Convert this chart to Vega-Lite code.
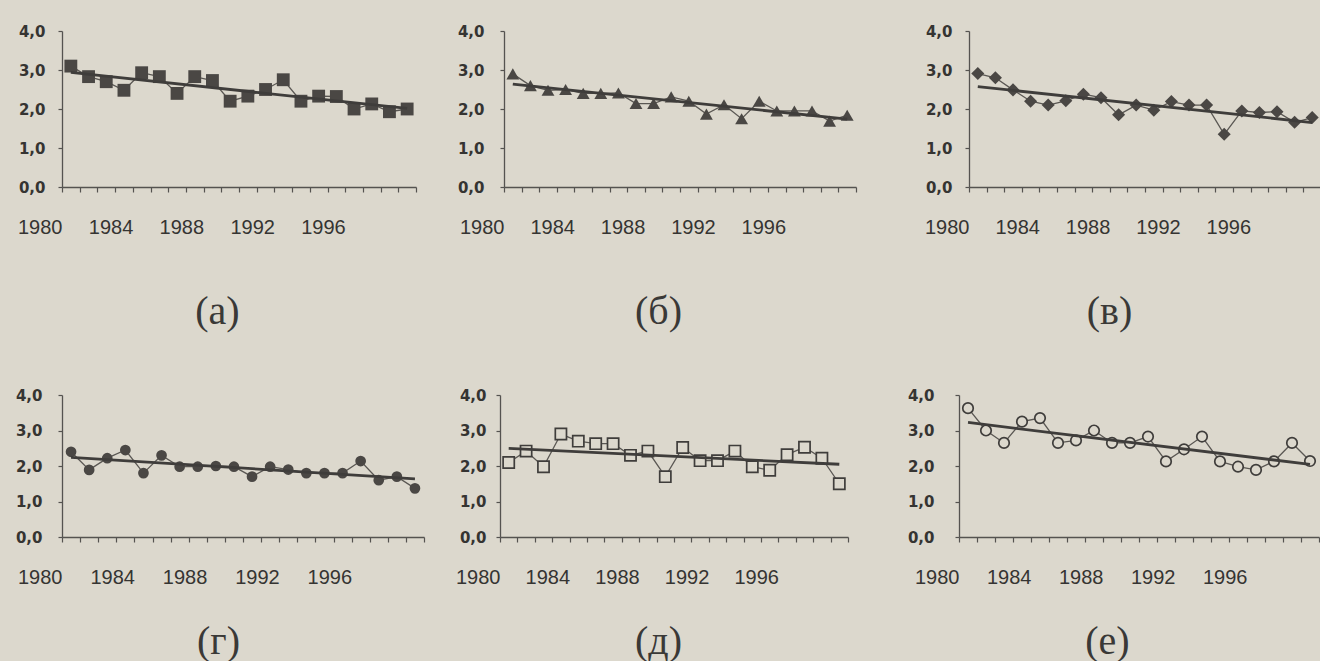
{
  "$schema": "https://vega.github.io/schema/vega-lite/v6.json",
  "background": "#dcd8cd",
  "padding": {"left": 5, "top": 24, "right": 0, "bottom": 0},
  "config": {
    "view": {"stroke": null},
    "axis": {"domainColor": "#555350", "tickColor": "#555350", "labelColor": "#353432", "labelFont": "Liberation Sans", "grid": false, "titleFont": "Liberation Serif", "titleFontWeight": "normal", "titleFontSize": 40, "titleColor": "#3a3937", "domainWidth": 1.3, "tickWidth": 1.2},
    "axisX": {"labelExpr": "datum.value < 1999 && (floor(datum.value) - 1980) % 4 == 0 ? '' + floor(datum.value) : ''", "labelAlign": "right", "labelFontSize": 20, "labelPadding": 25, "labelOverlap": false, "labelFlush": false, "labelBound": false, "tickSize": 5, "titleAlign": "center", "titleBaseline": "middle"},
    "axisY": {"labelExpr": "replace(format(datum.value, '.1f'), '.', ',')", "labelFont": "DejaVu Sans", "labelFontSize": 15, "labelFontWeight": "bold", "tickSize": 4, "title": null}
  },
  "data": {"values": [
    {"p":"a","year":1981,"v":3.1},{"p":"a","year":1982,"v":2.83},{"p":"a","year":1983,"v":2.7},{"p":"a","year":1984,"v":2.48},{"p":"a","year":1985,"v":2.93},{"p":"a","year":1986,"v":2.83},{"p":"a","year":1987,"v":2.4},{"p":"a","year":1988,"v":2.83},{"p":"a","year":1989,"v":2.73},{"p":"a","year":1990,"v":2.2},{"p":"a","year":1991,"v":2.33},{"p":"a","year":1992,"v":2.5},{"p":"a","year":1993,"v":2.75},{"p":"a","year":1994,"v":2.2},{"p":"a","year":1995,"v":2.33},{"p":"a","year":1996,"v":2.32},{"p":"a","year":1997,"v":2.0},{"p":"a","year":1998,"v":2.13},{"p":"a","year":1999,"v":1.93},{"p":"a","year":2000,"v":2.0},
    {"p":"b","year":1981,"v":2.9},{"p":"b","year":1982,"v":2.6},{"p":"b","year":1983,"v":2.48},{"p":"b","year":1984,"v":2.5},{"p":"b","year":1985,"v":2.4},{"p":"b","year":1986,"v":2.4},{"p":"b","year":1987,"v":2.41},{"p":"b","year":1988,"v":2.14},{"p":"b","year":1989,"v":2.14},{"p":"b","year":1990,"v":2.31},{"p":"b","year":1991,"v":2.2},{"p":"b","year":1992,"v":1.87},{"p":"b","year":1993,"v":2.11},{"p":"b","year":1994,"v":1.75},{"p":"b","year":1995,"v":2.2},{"p":"b","year":1996,"v":1.95},{"p":"b","year":1997,"v":1.95},{"p":"b","year":1998,"v":1.95},{"p":"b","year":1999,"v":1.69},{"p":"b","year":2000,"v":1.84},
    {"p":"v","year":1981,"v":2.91},{"p":"v","year":1982,"v":2.8},{"p":"v","year":1983,"v":2.49},{"p":"v","year":1984,"v":2.2},{"p":"v","year":1985,"v":2.1},{"p":"v","year":1986,"v":2.21},{"p":"v","year":1987,"v":2.38},{"p":"v","year":1988,"v":2.29},{"p":"v","year":1989,"v":1.85},{"p":"v","year":1990,"v":2.1},{"p":"v","year":1991,"v":1.97},{"p":"v","year":1992,"v":2.19},{"p":"v","year":1993,"v":2.1},{"p":"v","year":1994,"v":2.1},{"p":"v","year":1995,"v":1.35},{"p":"v","year":1996,"v":1.95},{"p":"v","year":1997,"v":1.91},{"p":"v","year":1998,"v":1.93},{"p":"v","year":1999,"v":1.66},{"p":"v","year":2000,"v":1.78},
    {"p":"g","year":1981,"v":2.4},{"p":"g","year":1982,"v":1.89},{"p":"g","year":1983,"v":2.22},{"p":"g","year":1984,"v":2.45},{"p":"g","year":1985,"v":1.8},{"p":"g","year":1986,"v":2.3},{"p":"g","year":1987,"v":1.98},{"p":"g","year":1988,"v":1.98},{"p":"g","year":1989,"v":2.0},{"p":"g","year":1990,"v":1.98},{"p":"g","year":1991,"v":1.7},{"p":"g","year":1992,"v":1.98},{"p":"g","year":1993,"v":1.9},{"p":"g","year":1994,"v":1.8},{"p":"g","year":1995,"v":1.8},{"p":"g","year":1996,"v":1.8},{"p":"g","year":1997,"v":2.14},{"p":"g","year":1998,"v":1.6},{"p":"g","year":1999,"v":1.7},{"p":"g","year":2000,"v":1.37},
    {"p":"d","year":1981,"v":2.1},{"p":"d","year":1982,"v":2.42},{"p":"d","year":1983,"v":1.98},{"p":"d","year":1984,"v":2.9},{"p":"d","year":1985,"v":2.7},{"p":"d","year":1986,"v":2.63},{"p":"d","year":1987,"v":2.63},{"p":"d","year":1988,"v":2.3},{"p":"d","year":1989,"v":2.42},{"p":"d","year":1990,"v":1.7},{"p":"d","year":1991,"v":2.52},{"p":"d","year":1992,"v":2.15},{"p":"d","year":1993,"v":2.15},{"p":"d","year":1994,"v":2.42},{"p":"d","year":1995,"v":1.98},{"p":"d","year":1996,"v":1.88},{"p":"d","year":1997,"v":2.32},{"p":"d","year":1998,"v":2.53},{"p":"d","year":1999,"v":2.22},{"p":"d","year":2000,"v":1.5},
    {"p":"e","year":1981,"v":3.63},{"p":"e","year":1982,"v":3.0},{"p":"e","year":1983,"v":2.65},{"p":"e","year":1984,"v":3.25},{"p":"e","year":1985,"v":3.35},{"p":"e","year":1986,"v":2.65},{"p":"e","year":1987,"v":2.72},{"p":"e","year":1988,"v":3.0},{"p":"e","year":1989,"v":2.65},{"p":"e","year":1990,"v":2.65},{"p":"e","year":1991,"v":2.83},{"p":"e","year":1992,"v":2.13},{"p":"e","year":1993,"v":2.47},{"p":"e","year":1994,"v":2.83},{"p":"e","year":1995,"v":2.13},{"p":"e","year":1996,"v":1.98},{"p":"e","year":1997,"v":1.89},{"p":"e","year":1998,"v":2.13},{"p":"e","year":1999,"v":2.65},{"p":"e","year":2000,"v":2.14}
  ]},
  "spacing": 57,
  "vconcat": [
    {
      "spacing": 10,
      "hconcat": [
        {
          "width": 354, "height": 156,
          "transform": [{"filter": "datum.p == 'a'"}],
          "encoding": {
            "x": {"field": "year", "type": "quantitative", "scale": {"domain": [1980.5, 2000.5], "nice": false, "zero": false}, "axis": {"values": [1980.5,1981.5,1982.5,1983.5,1984.5,1985.5,1986.5,1987.5,1988.5,1989.5,1990.5,1991.5,1992.5,1993.5,1994.5,1995.5,1996.5,1997.5,1998.5,1999.5,2000.5], "title": "(а)", "titleX": 155, "titleY": 124}},
            "y": {"field": "v", "type": "quantitative", "scale": {"domain": [0, 4], "nice": false}, "axis": {"values": [0, 1, 2, 3, 4], "minExtent": 57, "maxExtent": 57, "labelPadding": 13}}
          },
          "layer": [
            {"mark": {"type": "line", "color": "#5a5753", "strokeWidth": 1.3}},
            {"mark": {"type": "point", "shape": "square", "filled": true, "size": 165, "color": "#4a4744", "opacity": 1}},
            {"transform": [{"regression": "v", "on": "year"}], "mark": {"type": "line", "color": "#3f3d3b", "strokeWidth": 2.8}}
          ]
        },
        {
          "width": 352, "height": 156,
          "transform": [{"filter": "datum.p == 'b'"}],
          "encoding": {
            "x": {"field": "year", "type": "quantitative", "scale": {"domain": [1980.5, 2000.5], "nice": false, "zero": false}, "axis": {"values": [1980.5,1981.5,1982.5,1983.5,1984.5,1985.5,1986.5,1987.5,1988.5,1989.5,1990.5,1991.5,1992.5,1993.5,1994.5,1995.5,1996.5,1997.5,1998.5,1999.5,2000.5], "title": "(б)", "titleX": 154, "titleY": 124}},
            "y": {"field": "v", "type": "quantitative", "scale": {"domain": [0, 4], "nice": false}, "axis": {"values": [0, 1, 2, 3, 4], "minExtent": 77, "maxExtent": 77, "labelPadding": 16}}
          },
          "layer": [
            {"mark": {"type": "line", "color": "#5a5753", "strokeWidth": 1.3}},
            {"mark": {"type": "point", "shape": "triangle-up", "filled": true, "size": 165, "color": "#4a4744", "opacity": 1}},
            {"transform": [{"regression": "v", "on": "year"}], "mark": {"type": "line", "color": "#3f3d3b", "strokeWidth": 2.8}}
          ]
        },
        {
          "width": 352, "height": 156,
          "transform": [{"filter": "datum.p == 'v'"}],
          "encoding": {
            "x": {"field": "year", "type": "quantitative", "scale": {"domain": [1980.5, 2000.5], "nice": false, "zero": false}, "axis": {"values": [1980.5,1981.5,1982.5,1983.5,1984.5,1985.5,1986.5,1987.5,1988.5,1989.5,1990.5,1991.5,1992.5,1993.5,1994.5,1995.5,1996.5,1997.5,1998.5,1999.5,2000.5], "title": "(в)", "titleX": 140, "titleY": 124}},
            "y": {"field": "v", "type": "quantitative", "scale": {"domain": [0, 4], "nice": false}, "axis": {"values": [0, 1, 2, 3, 4], "minExtent": 102, "maxExtent": 102, "labelPadding": 13}}
          },
          "layer": [
            {"mark": {"type": "line", "color": "#5a5753", "strokeWidth": 1.3}},
            {"mark": {"type": "point", "shape": "diamond", "filled": true, "size": 170, "color": "#4a4744", "opacity": 1}},
            {"transform": [{"regression": "v", "on": "year"}], "mark": {"type": "line", "color": "#3f3d3b", "strokeWidth": 2.8}}
          ]
        }
      ]
    },
    {
      "spacing": 10,
      "hconcat": [
        {
          "width": 362, "height": 142,
          "transform": [{"filter": "datum.p == 'g'"}],
          "encoding": {
            "x": {"field": "year", "type": "quantitative", "scale": {"domain": [1980.5, 2000.5], "nice": false, "zero": false}, "axis": {"values": [1980.5,1981.5,1982.5,1983.5,1984.5,1985.5,1986.5,1987.5,1988.5,1989.5,1990.5,1991.5,1992.5,1993.5,1994.5,1995.5,1996.5,1997.5,1998.5,1999.5,2000.5], "title": "(г)", "titleX": 156, "titleY": 104}},
            "y": {"field": "v", "type": "quantitative", "scale": {"domain": [0, 4], "nice": false}, "axis": {"values": [0, 1, 2, 3, 4], "minExtent": 57, "maxExtent": 57, "labelPadding": 16}}
          },
          "layer": [
            {"mark": {"type": "line", "color": "#5a5753", "strokeWidth": 1.3}},
            {"mark": {"type": "point", "shape": "circle", "filled": true, "size": 115, "color": "#4a4744", "opacity": 1}},
            {"transform": [{"regression": "v", "on": "year"}], "mark": {"type": "line", "color": "#3f3d3b", "strokeWidth": 2.8}}
          ]
        },
        {
          "width": 348, "height": 142,
          "transform": [{"filter": "datum.p == 'd'"}],
          "encoding": {
            "x": {"field": "year", "type": "quantitative", "scale": {"domain": [1980.5, 2000.5], "nice": false, "zero": false}, "axis": {"values": [1980.5,1981.5,1982.5,1983.5,1984.5,1985.5,1986.5,1987.5,1988.5,1989.5,1990.5,1991.5,1992.5,1993.5,1994.5,1995.5,1996.5,1997.5,1998.5,1999.5,2000.5], "title": "(д)", "titleX": 158, "titleY": 104}},
            "y": {"field": "v", "type": "quantitative", "scale": {"domain": [0, 4], "nice": false}, "axis": {"values": [0, 1, 2, 3, 4], "minExtent": 65, "maxExtent": 65, "labelPadding": 10}}
          },
          "layer": [
            {"mark": {"type": "line", "color": "#5a5753", "strokeWidth": 1.3}},
            {"mark": {"type": "point", "shape": "square", "filled": false, "fill": "#dcd8cd", "fillOpacity": 1, "size": 125, "strokeWidth": 1.7, "color": "#3f3d3b", "opacity": 1}},
            {"transform": [{"regression": "v", "on": "year"}], "mark": {"type": "line", "color": "#3f3d3b", "strokeWidth": 2.8}}
          ]
        },
        {
          "width": 360, "height": 142,
          "transform": [{"filter": "datum.p == 'e'"}],
          "encoding": {
            "x": {"field": "year", "type": "quantitative", "scale": {"domain": [1980.5, 2000.5], "nice": false, "zero": false}, "axis": {"values": [1980.5,1981.5,1982.5,1983.5,1984.5,1985.5,1986.5,1987.5,1988.5,1989.5,1990.5,1991.5,1992.5,1993.5,1994.5,1995.5,1996.5,1997.5,1998.5,1999.5,2000.5], "title": "(е)", "titleX": 148, "titleY": 104}},
            "y": {"field": "v", "type": "quantitative", "scale": {"domain": [0, 4], "nice": false}, "axis": {"values": [0, 1, 2, 3, 4], "minExtent": 100, "maxExtent": 100, "labelPadding": 21}}
          },
          "layer": [
            {"mark": {"type": "line", "color": "#5a5753", "strokeWidth": 1.3}},
            {"mark": {"type": "point", "shape": "circle", "filled": false, "fill": "#dcd8cd", "fillOpacity": 1, "size": 110, "strokeWidth": 1.7, "color": "#3f3d3b", "opacity": 1}},
            {"transform": [{"regression": "v", "on": "year"}], "mark": {"type": "line", "color": "#3f3d3b", "strokeWidth": 2.8}}
          ]
        }
      ]
    }
  ]
}
